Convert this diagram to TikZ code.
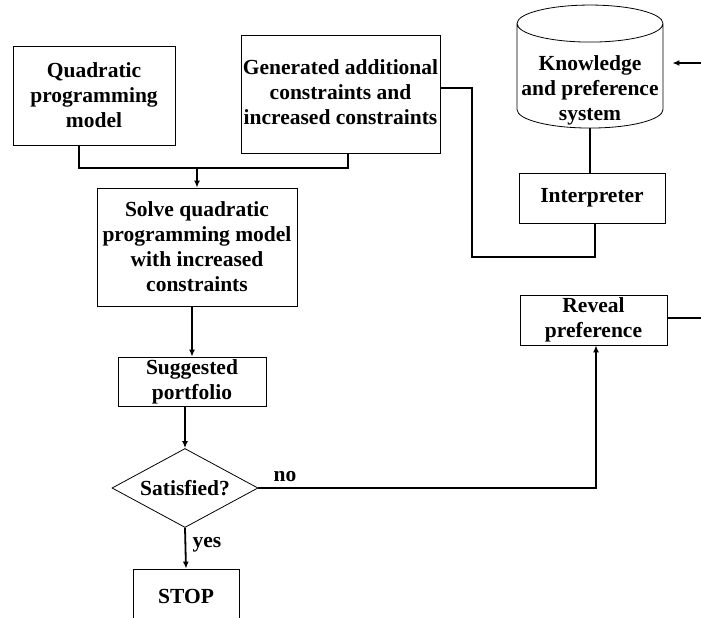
\documentclass[tikz,border=0pt]{standalone}
\usepackage{fontspec}
\setmainfont{Liberation Serif}
\usetikzlibrary{shapes.geometric,arrows.meta}
\begin{document}
\begin{tikzpicture}[x=1pt,y=-1pt,
  txt/.style={font=\bfseries\fontsize{21.5}{25}\selectfont},
  box/.style={txt,draw,line width=0.8pt,align=center,inner sep=0pt},
  conn/.style={line width=1.8pt},
  arr/.style={conn,-{Latex[length=7pt,width=6pt]}},
  lbl/.style={txt,inner sep=0pt}]
\clip (0,0) rectangle (701,618);
\fill[white] (0,0) rectangle (701,618);
\node[box,minimum width=162pt,minimum height=99pt] (qp) at (94,95.5) {Quadratic\\programming\\model};
\node[box,minimum width=199pt,minimum height=118pt] (gen) at (340.5,94)
  {\raisebox{4pt}{\begin{tabular}{@{}c@{}}Generated additional\\constraints and\\increased constraints\end{tabular}}};
\node[box,minimum width=200pt,minimum height=118pt] (solve) at (197,247) {Solve quadratic\\programming model\\with increased\\constraints};
\node[box,minimum width=148pt,minimum height=49pt] (sugg) at (192,381.5) {Suggested\\portfolio};
\node[box,diamond,aspect=1.85,minimum width=146pt,minimum height=79pt] (sat) at (185,488) {Satisfied?};
\node[box,minimum width=106pt,minimum height=54pt] (stop) at (186,596) {STOP};
\node[box,cylinder,shape border rotate=90,aspect=0.27,minimum width=146pt,minimum height=123pt] (cyl) at (590,76)
  {\raisebox{-20pt}[0pt][0pt]{\begin{tabular}{@{}c@{}}Knowledge\\and preference\\system\end{tabular}}};
\node[box,minimum width=146pt,minimum height=50pt] (interp) at (592,198) {Interpreter};
\node[box,minimum width=147pt,minimum height=50pt] (reveal) at (593.5,320) {Reveal\\preference};
\node[lbl] (no) at (285,477) {no};
\node[lbl] (yes) at (207,545) {yes};
\coordinate (j) at (197,168);
\coordinate (k) at (472,257);
\coordinate (e1) at (701,63);
\coordinate (e2) at (701,318);
\draw[conn] ([xshift=-15pt]qp.south) |- (j) -| ([xshift=7.5pt]gen.south);
\draw[arr] (j) -- (solve.north);
\draw[arr] (sugg.north |- solve.south) -- (sugg.north);
\draw[arr] (sat.north |- sugg.south) -- (sat.north);
\draw[arr] (sat.south) -- (stop.north);
\draw[arr] (sat.east) -| ([xshift=2.5pt]reveal.south);
\draw[conn] (cyl.south) -- (cyl.south |- interp.north);
\draw[conn] ([xshift=3pt]interp.south) |- (k) |- ([yshift=6pt]gen.east);
\draw[arr,shorten >=9pt] (e1) -- (cyl.east |- e1);
\draw[conn] (reveal.east |- e2) -- (e2);
\end{tikzpicture}
\end{document}
